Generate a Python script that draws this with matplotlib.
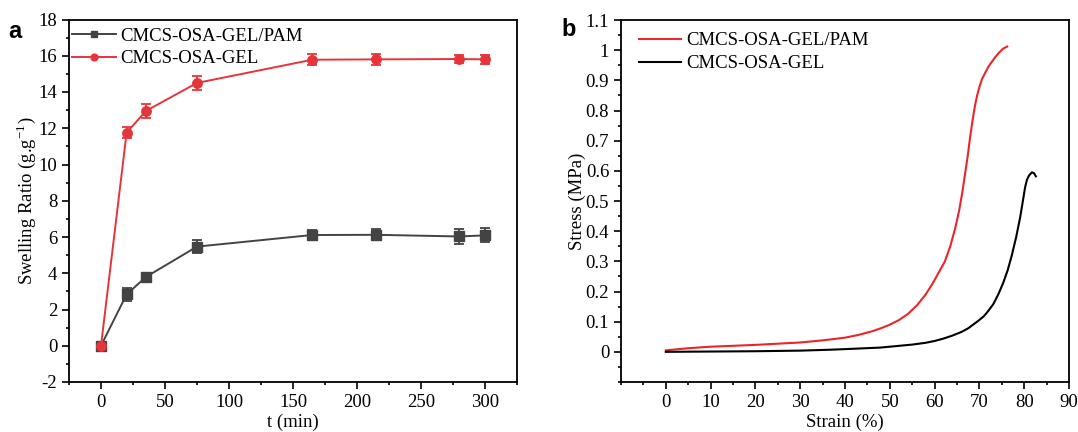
import matplotlib
matplotlib.use("Agg")
import matplotlib.pyplot as plt
from matplotlib.ticker import MultipleLocator

plt.rcParams['font.family'] = ['Liberation Serif', 'DejaVu Serif']
plt.rcParams['mathtext.fontset'] = 'custom'
plt.rcParams['mathtext.rm'] = 'Liberation Serif'
plt.rcParams['axes.unicode_minus'] = False

# Panel a data
t_min = [0, 20, 35, 75, 165, 215, 280, 300]
pam_swell = [0, 2.83, 3.79, 5.47, 6.11, 6.12, 6.03, 6.09]
pam_err = [0.1, 0.37, 0.15, 0.34, 0.3, 0.3, 0.4, 0.38]
gel_swell = [0, 11.75, 12.95, 14.5, 15.78, 15.8, 15.82, 15.8]
gel_err = [0.1, 0.3, 0.39, 0.37, 0.3, 0.3, 0.2, 0.25]

# Panel b data
pam_strain = [0, 5, 10, 20, 30, 35, 40, 43, 46, 48, 50, 52, 54, 56, 58, 59.5, 61, 62.3, 63.5, 64.6,
              65.5, 66.2, 66.8, 67.4, 68, 68.5, 69, 69.5, 70, 70.6, 71.3, 72, 72.9, 73.7, 74.4, 75.3, 76.2]
pam_stress = [0.005, 0.012, 0.017, 0.023, 0.031, 0.038, 0.047, 0.056, 0.068, 0.078, 0.09, 0.105, 0.125,
              0.153, 0.19, 0.225, 0.265, 0.30, 0.35, 0.41, 0.47, 0.53, 0.59, 0.65, 0.72, 0.77, 0.815,
              0.85, 0.878, 0.905, 0.925, 0.945, 0.964, 0.98, 0.992, 1.005, 1.012]
gel_strain = [0, 10, 20, 30, 36.7, 40, 47.8, 50, 55, 58, 60, 62, 64, 66, 67.5, 69.5, 71, 72, 73.1, 74.2,
              75.3, 76.3, 77.2, 78.2, 79.1, 79.7, 80.2, 80.6, 81.1, 81.7, 82.2, 82.6]
gel_stress = [0, 0.001, 0.002, 0.004, 0.007, 0.009, 0.014, 0.017, 0.024, 0.03, 0.036, 0.044, 0.054, 0.066,
              0.078, 0.1, 0.118, 0.136, 0.158, 0.19, 0.228, 0.27, 0.318, 0.38, 0.446, 0.5, 0.545, 0.57,
              0.585, 0.595, 0.592, 0.582]

GRAY = '#434343'
RED = '#e5353b'

fig = plt.figure(figsize=(10.78, 4.32), dpi=100)
W, H = 1078, 432
axa = fig.add_axes([69 / W, 1 - 382 / H, (517 - 69) / W, (382 - 19.5) / H])
axb = fig.add_axes([621 / W, 1 - 382 / H, (1069 - 621) / W, (382 - 20) / H])

# error bars (no legend entry)
axa.errorbar(t_min, pam_swell, yerr=pam_err, fmt='none', ecolor=GRAY, capsize=3.5, elinewidth=1.3, capthick=1.3)
axa.errorbar(t_min, gel_swell, yerr=gel_err, fmt='none', ecolor=RED, capsize=3.5, elinewidth=1.3, capthick=1.3)
axa.plot(t_min, pam_swell, color=GRAY, marker='s', ms=6.8, lw=1.4, label='CMCS-OSA-GEL/PAM')
axa.plot(t_min, gel_swell, color=RED, marker='o', ms=6.8, lw=1.4, label='CMCS-OSA-GEL')
axa.set_xlim(-25, 325)
axa.set_ylim(-2, 18)
axa.xaxis.set_major_locator(MultipleLocator(50))
axa.xaxis.set_minor_locator(MultipleLocator(25))
axa.yaxis.set_major_locator(MultipleLocator(2))
axa.yaxis.set_minor_locator(MultipleLocator(1))
axa.set_xlabel('t (min)', fontsize=13.5, labelpad=2)
axa.set_ylabel(r'Swelling Ratio (g.g$^{-1}$)', fontsize=13.5, labelpad=0)
axa.legend(loc='upper left', bbox_to_anchor=(0.0076, 0.978), frameon=False, fontsize=13.5,
           handlelength=2.3, borderaxespad=0, borderpad=0, handletextpad=0.25,
           labelspacing=0.3, markerscale=0.72)

axb.plot(pam_strain, pam_stress, color='#e8262b', lw=1.5, label='CMCS-OSA-GEL/PAM')
axb.plot(gel_strain, gel_stress, color='black', lw=1.5, label='CMCS-OSA-GEL')
axb.set_xlim(-10, 90)
axb.set_ylim(-0.1, 1.1)
axb.set_xticks([0, 10, 20, 30, 40, 50, 60, 70, 80, 90])
axb.xaxis.set_minor_locator(MultipleLocator(5))
axb.set_yticks([0, 0.1, 0.2, 0.3, 0.4, 0.5, 0.6, 0.7, 0.8, 0.9, 1.0, 1.1])
axb.set_yticklabels(['0', '0.1', '0.2', '0.3', '0.4', '0.5', '0.6', '0.7', '0.8', '0.9', '1', '1.1'])
axb.yaxis.set_minor_locator(MultipleLocator(0.05))
axb.set_xlabel('Strain (%)', fontsize=13.5, labelpad=2)
axb.set_ylabel('Stress (MPa)', fontsize=13.5, labelpad=0)
axb.legend(loc='upper left', bbox_to_anchor=(0.04, 0.966), frameon=False, fontsize=13.5,
           handlelength=2.25, borderaxespad=0, borderpad=0, handletextpad=0.25,
           labelspacing=0.3)

for ax in (axa, axb):
    ax.tick_params(which='both', direction='out', labelsize=13.5, width=1.2)
    ax.tick_params(which='major', length=5)
    ax.tick_params(which='minor', length=2.2)
    for s in ax.spines.values():
        s.set_linewidth(1.3)

fig.text(15 / W, 1 - 31.7 / H, 'a', fontsize=17, fontweight='bold', family='Liberation Sans',
         ha='center', va='center')
fig.text(568.5 / W, 1 - 30 / H, 'b', fontsize=17, fontweight='bold', family='Liberation Sans',
         ha='center', va='center')

fig.savefig('out.png', dpi=100)
